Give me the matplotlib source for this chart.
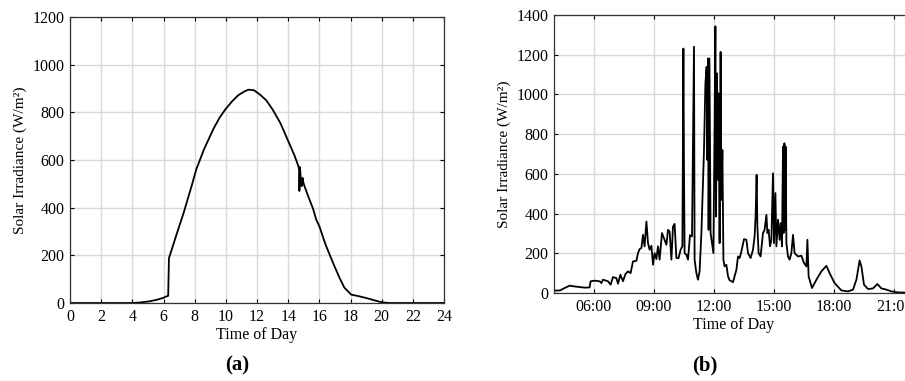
import matplotlib
matplotlib.use("Agg")
import matplotlib.pyplot as plt

plt.rcParams['font.family'] = ['Liberation Serif', 'DejaVu Serif']

# (a) clear-sky day, hours vs W/m2
hours_a = [0, 2, 4, 4.5, 5.1, 5.6, 6.0, 6.2, 6.3, 6.35, 6.8, 7.3, 7.8, 8.1, 8.6, 9.2, 9.6,
           10.0, 10.4, 10.8, 11.2, 11.45, 11.8, 12.2, 12.6, 13.0, 13.5, 14.0, 14.4, 14.65,
           14.7, 14.72, 14.76, 14.8, 14.86, 14.92, 14.98, 15.05, 15.3, 15.6, 15.8, 16.0,
           16.4, 16.9, 17.3, 17.6, 18.05, 18.5, 19.0, 19.5, 20.0, 20.5, 22, 24]
irr_a = [0, 0, 0, 2, 7, 14, 22, 28, 30, 188, 280, 380, 490, 560, 645, 730, 778,
         815, 846, 872, 888, 895, 893, 874, 850, 812, 755, 680, 620, 575,
         560, 470, 570, 530, 490, 525, 505, 490, 445, 395, 350, 322,
         245, 165, 105, 65, 35, 29, 21, 12, 3, 0, 0, 0]

# (b) cloudy day
hours_b = [4.0, 4.3, 4.53, 4.78, 5.03, 5.28, 5.53, 5.78, 5.83, 6.03, 6.28, 6.37, 6.45, 6.7,
           6.83, 6.95, 7.12, 7.2, 7.32, 7.45, 7.57, 7.7, 7.83, 7.95, 8.12, 8.2, 8.28, 8.37,
           8.42, 8.45, 8.53, 8.62, 8.7, 8.78, 8.87, 8.95, 9.03, 9.12, 9.2, 9.28, 9.4, 9.53,
           9.62, 9.7, 9.78, 9.87, 9.95, 10.03, 10.12, 10.23, 10.33, 10.42, 10.47, 10.5,
           10.53, 10.62, 10.7, 10.8, 10.9, 11.0, 11.03, 11.12, 11.2, 11.28, 11.37, 11.5,
           11.57, 11.63, 11.67, 11.7, 11.73, 11.77, 11.83, 11.9, 11.97, 12.03, 12.07, 12.1,
           12.15, 12.2, 12.23, 12.28, 12.33, 12.37, 12.42, 12.47, 12.53, 12.62, 12.7, 12.78,
           12.95, 13.12, 13.2, 13.28, 13.37, 13.5, 13.62, 13.7, 13.83, 13.95, 14.03, 14.08,
           14.13, 14.17, 14.23, 14.33, 14.45, 14.53, 14.62, 14.67, 14.73, 14.8, 14.87, 14.95,
           15.0, 15.07, 15.12, 15.2, 15.28, 15.33, 15.4, 15.45, 15.48, 15.52, 15.55, 15.58,
           15.62, 15.7, 15.78, 15.87, 15.95, 16.03, 16.2, 16.37, 16.5, 16.62, 16.67, 16.73,
           16.9, 17.12, 17.37, 17.62, 17.78, 18.03, 18.37, 18.7, 18.95, 19.12, 19.28, 19.37,
           19.5, 19.7, 19.95, 20.17, 20.37, 20.62, 20.87, 21.2, 21.6, 22.0]
irr_b = [12, 13, 25, 37, 33, 30, 27, 28, 59, 62, 59, 50, 67, 59,
         42, 80, 75, 47, 92, 59, 95, 109, 100, 159, 162, 201, 221, 226,
         268, 293, 235, 360, 251, 218, 238, 142, 201, 171, 235, 168, 302, 268,
         243, 318, 310, 168, 335, 348, 176, 176, 218, 235, 1231, 620,
         201, 193, 168, 291, 285, 1240, 168, 100, 67, 109, 302, 720,
         1055, 1139, 670, 1181, 318, 1181, 302, 251, 201, 838, 1343, 385,
         1106, 570, 1005, 251, 1214, 469, 720, 168, 134, 142, 84, 64,
         55, 117, 184, 176, 209, 271, 268, 201, 176, 218, 285, 385,
         595, 335, 201, 184, 302, 318, 394, 302, 318, 235, 268, 603,
         251, 503, 235, 369, 268, 352, 235, 737, 302, 754, 318, 737,
         251, 184, 168, 201, 293, 201, 184, 188, 151, 134, 268, 84,
         25, 67, 109, 137, 100, 50, 13, 8, 17, 67, 164, 134,
         42, 20, 23, 45, 23, 17, 8, 3, 2, 1]

xticks_b = [6, 9, 12, 15, 18, 21]
xticklabels_b = ['06:00', '09:00', '12:00', '15:00', '18:00', '21:00']

W, H = 905, 381
fig = plt.figure(figsize=(W / 100, H / 100), dpi=100)

ax1 = fig.add_axes([70 / W, (H - 303) / H, 374 / W, 286 / H])
ax2 = fig.add_axes([554 / W, (H - 293) / H, 360 / W, 278 / H])

ax1.plot(hours_a, irr_a, color='black', lw=1.3)
ax1.set_xlim(0, 24)
ax1.set_ylim(0, 1200)
ax1.set_xticks(range(0, 25, 2))
ax1.set_yticks(range(0, 1201, 200))

ax2.plot(hours_b, irr_b, color='black', lw=1.3)
ax2.set_xlim(4, 22)
ax2.set_ylim(0, 1400)
ax2.set_xticks(xticks_b)
ax2.set_xticklabels(xticklabels_b)
ax2.set_yticks(range(0, 1401, 200))

for ax in (ax1, ax2):
    ax.grid(True, color='#d9d9d9', lw=1)
    ax.set_axisbelow(True)
    ax.tick_params(direction='in', top=True, right=True, length=3, labelsize=11.5, pad=4)
    ax.set_xlabel('Time of Day', fontsize=11.5, labelpad=2)
    ax.set_ylabel('Solar Irradiance (W/m²)', fontsize=11, labelpad=4)
    for s in ax.spines.values():
        s.set_color('#333333')
        s.set_linewidth(0.9)

fig.text(237 / W, 1 - 365 / H, '(a)', ha='center', va='center', fontsize=15, fontweight='bold')
fig.text(705 / W, 1 - 365 / H, '(b)', ha='center', va='center', fontsize=15, fontweight='bold')

fig.savefig('out.png', dpi=100)
